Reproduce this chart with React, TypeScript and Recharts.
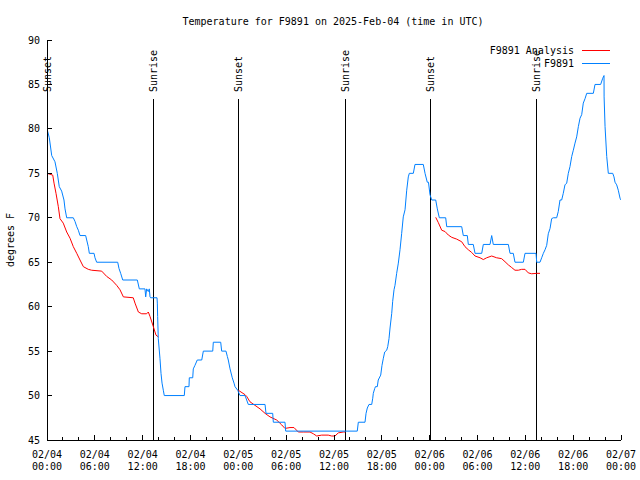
import React from 'react';
import { LineChart, Line, XAxis, YAxis, ReferenceLine } from 'recharts';

// hours since 02/04 00:00 UTC
const obsHours = [
  0, 0.29, 0.59, 1.0, 1.29, 1.54, 1.84, 2.13, 2.26, 2.47, 3.3, 3.51, 3.73, 3.93, 4.14, 4.85, 4.98, 5.18, 5.31, 5.9,
  6.02, 6.23, 8.87, 9.03, 9.24, 9.5, 11.33, 11.58, 12.29, 12.38, 12.5, 12.71, 12.83, 12.92, 13.0, 13.8, 13.84, 13.88,
  13.96, 14.17, 14.3, 14.43, 14.59, 14.71, 17.22, 17.31, 17.81, 17.85, 18.28, 18.35, 18.56, 18.85, 19.41, 19.61, 20.79,
  20.86, 21.79, 21.91, 22.45, 22.62, 22.74, 22.96, 23.24, 23.46, 23.58, 23.92, 24.21, 24.84, 25.25, 27.35, 27.47, 28.31,
  28.39, 29.85, 29.94, 38.92, 39.05, 39.89, 40.02, 40.18, 40.39, 40.73, 40.86, 40.93, 41.11, 41.2, 41.43, 41.55, 41.86,
  42.02, 42.19, 42.36, 42.61, 42.74, 42.9, 43.03, 43.24, 43.36, 43.53, 43.65, 43.86, 44.07, 44.28, 44.49, 44.69, 44.91,
  45.12, 45.32, 45.45, 45.95, 46.16, 47.2, 47.42, 47.7, 47.85, 48.04, 48.26, 48.76, 48.96, 49.21, 50.01, 50.14, 52.02,
  52.22, 52.72, 52.85, 53.47, 53.69, 54.53, 54.73, 55.57, 55.78, 55.98, 57.87, 58.08, 58.49, 58.7, 59.75, 59.96, 61.34,
  61.43, 61.84, 62.05, 62.26, 62.47, 62.68, 62.88, 63.1, 63.3, 63.51, 63.93, 64.13, 64.35, 64.56, 64.76, 64.97, 65.19,
  65.39, 65.6, 65.82, 66.02, 66.23, 66.44, 66.65, 66.86, 67.07, 67.27, 67.49, 67.7, 68.53, 68.74, 69.45, 69.71, 69.87,
  69.88, 70.0, 70.21, 70.41, 70.96, 71.12, 71.25, 71.46, 71.66, 71.88, 72,
];
const obsTemps = [
  80, 79, 77, 76.3, 75, 73.5, 73, 72, 71, 70, 70, 69.6, 69, 68.6, 68, 68, 67.5, 66.75, 66, 66,
  65.5, 65, 65, 64.3, 63.75, 63, 63, 62, 62, 61.1, 62, 61.7, 62, 61.1, 61, 61, 60.4, 58.9,
  56.4, 54.2, 52.5, 51.4, 50.6, 50, 50, 51, 51, 52, 52, 53, 53.4, 54, 54, 55, 55,
  56, 56, 55, 55, 54.4, 54, 53, 52, 51.4, 51, 50.6, 50, 50, 49, 49, 48, 48,
  47, 47, 46, 46, 47, 47, 48, 48.6, 49, 49, 49.7, 50.25, 50.8, 51, 51, 51.75, 52.3,
  53.4, 54.2, 54.9, 55.1, 55.5, 56.4, 57.6, 59.25, 60.6, 61.9, 62.4, 63.75, 64.9, 66.4, 68.25, 70.1, 70.9,
  73.1, 74.6, 75, 75, 76, 76, 75, 74, 74, 72.6, 72, 72, 71, 70, 70, 69, 69,
  68, 68, 67, 67, 66, 66, 67, 67, 68, 67, 67, 66, 66, 65, 65, 66, 66,
  65, 65, 65.5, 66, 66.4, 66.9, 68.2, 68.8, 69.9, 70, 70, 70.7, 72, 72, 72.75, 73.7, 73.9,
  75, 75.75, 76.9, 77.6, 78.4, 79.1, 80.25, 81.2, 81.6, 82.9, 83.4, 84, 84, 85, 85, 85.7, 86,
  83.6, 80.25, 76.9, 75, 75, 74.6, 74, 73.7, 73.1, 72.2, 72,
];

const anaHours = [
  0, 0.72, 0.88, 1.13, 1.42, 1.63, 2.04, 2.47, 2.89, 3.3, 3.73, 4.14, 4.56, 5.18, 5.6, 6.86, 7.49, 8.12, 8.74, 9.16,
  9.58, 10.82, 11.04, 11.46, 11.88, 12.5, 12.71, 12.92, 13.34, 13.67, 13.96,
  19,
  23.99, 24.84, 25.05, 25.46, 26.09, 26.72, 27.35, 27.97, 28.81, 29.44, 29.85, 30.48, 30.98, 31.52, 32.15, 32.99, 33.41,
  33.83, 34.45, 35.28, 35.71, 36.12, 36.54, 37.17, 37.42,
  43,
  48.76, 49.09, 49.51, 49.93, 50.34, 50.77, 51.39, 52.02, 52.43, 52.85, 53.27, 53.69, 54.32, 54.73, 55.15, 55.78, 56.4,
  57.03, 57.45, 57.87, 58.29, 58.7, 59.12, 59.54, 59.96, 60.37, 60.79, 61.43, 61.84,
];
const anaTemps = [
  75, 74.8, 73.9, 72.75, 71.25, 69.9, 69.4, 68.4, 67.7, 66.75, 66, 65.25, 64.5, 64.2, 64.1, 64, 63.4, 63, 62.4, 61.9,
  61.1, 61, 60.4, 59.4, 59.2, 59.2, 59.4, 58.9, 57.75, 56.8, 56.6,
  null,
  50.6, 50.1, 49.9, 49.3, 48.9, 48.5, 48, 47.6, 47.25, 46.7, 46.3, 46.4, 46.4, 45.9, 45.9, 45.9, 45.7,
  45.45, 45.55, 45.55, 45.45, 45.45, 45.8, 45.9, 45.9,
  null,
  70.05, 69.45, 68.6, 68.45, 68.06, 67.8, 67.6, 67.3, 66.75, 66.4, 66.1, 65.7, 65.5, 65.3, 65.5, 65.7, 65.5,
  65.4, 65.06, 64.7, 64.4, 64.1, 64.1, 64.2, 64.2, 63.8, 63.7, 63.75, 63.75,
];

const sunHours = [0, 13.34, 24.0, 37.43, 48.1, 61.4];
const sunLabels = ['Sunset', 'Sunrise', 'Sunset', 'Sunrise', 'Sunset', 'Sunrise'];

const xTicks = [0, 2, 4, 6, 8, 10, 12, 14, 16, 18, 20, 22, 24, 26, 28, 30, 32, 34, 36, 38, 40, 42, 44, 46, 48, 50, 52, 54, 56, 58, 60, 62, 64, 66, 68, 70, 72];
const majorHours = [0, 6, 12, 18, 24, 30, 36, 42, 48, 54, 60, 66, 72];
const tickDates = ['02/04', '02/04', '02/04', '02/04', '02/05', '02/05', '02/05', '02/05', '02/06', '02/06', '02/06', '02/06', '02/07'];
const tickTimes = ['00:00', '06:00', '12:00', '18:00', '00:00', '06:00', '12:00', '18:00', '00:00', '06:00', '12:00', '18:00', '00:00'];
const yTicks = [45, 50, 55, 60, 65, 70, 75, 80, 85, 90];

const obsData = obsHours.map((t, i) => ({ t, v: obsTemps[i] }));
const anaData = anaHours.map((t, i) => ({ t, v: anaTemps[i] }));

const FONT = '"DejaVu Sans Mono", "Liberation Mono", monospace';
const FS = 10;
const RED = '#ff0000';
const BLUE = '#0080ff';

function BottomTick(props: any) {
  const { x, y, payload } = props;
  const idx = majorHours.indexOf(payload.value);
  const major = idx >= 0;
  return (
    <g>
      <line x1={x} y1={y} x2={x} y2={y - (major ? 5 : 3)} stroke="#000" shapeRendering="crispEdges" />
      {major && (
        <text x={x} y={y + 18} textAnchor="middle" fontFamily={FONT} fontSize={FS} fill="#000">
          <tspan x={x} y={y + 18}>{tickDates[idx]}</tspan>
          <tspan x={x} y={y + 30}>{tickTimes[idx]}</tspan>
        </text>
      )}
    </g>
  );
}

function TopTick(props: any) {
  const { x, y, payload } = props;
  const major = majorHours.includes(payload.value);
  return <line x1={x} y1={y} x2={x} y2={y + (major ? 5 : 3)} stroke="#000" shapeRendering="crispEdges" />;
}

function LeftTick(props: any) {
  const { x, y, payload } = props;
  return (
    <g>
      <line x1={x} y1={y} x2={x + 5} y2={y} stroke="#000" shapeRendering="crispEdges" />
      <text x={x - 7} y={y} dy="0.36em" textAnchor="end" fontFamily={FONT} fontSize={FS} fill="#000">
        {payload.value}
      </text>
    </g>
  );
}

function RightTick(props: any) {
  const { x, y } = props;
  return <line x1={x} y1={y} x2={x - 5} y2={y} stroke="#000" shapeRendering="crispEdges" />;
}

const sunShape = (label: string) => (props: any) => {
  const { x1, y1, x2, y2 } = props;
  const top = Math.min(y1, y2);
  const bottom = Math.max(y1, y2);
  return (
    <g>
      <line x1={x1} y1={top + 59} x2={x2} y2={bottom} stroke="#000" strokeWidth={1} shapeRendering="crispEdges" />
      <text
        transform={`translate(${x1},${top + 52}) rotate(-90)`}
        textAnchor="start"
        dominantBaseline="central"
        fontFamily={FONT}
        fontSize={FS}
        fill="#000"
      >
        {label}
      </text>
    </g>
  );
};

export default function App() {
  return (
    <div style={{ position: 'absolute', left: 0, top: 0, width: 640, height: 480, background: '#fff' }}>
      <LineChart width={640} height={480} margin={{ top: 40, right: 19, bottom: 0, left: 0 }}>
        <XAxis
          xAxisId="b"
          type="number"
          dataKey="t"
          domain={[0, 72]}
          ticks={xTicks}
          interval={0}
          height={40}
          tickSize={0}
          tickMargin={0}
          tick={<BottomTick />}
          axisLine={{ stroke: '#000', shapeRendering: 'crispEdges' }}
          allowDataOverflow
        />
        <XAxis
          xAxisId="t"
          orientation="top"
          type="number"
          dataKey="t"
          domain={[0, 72]}
          ticks={xTicks}
          interval={0}
          height={0}
          tickSize={0}
          tickMargin={0}
          tick={<TopTick />}
          axisLine={{ stroke: '#000', shapeRendering: 'crispEdges' }}
          allowDataOverflow
        />
        <YAxis
          yAxisId="l"
          type="number"
          domain={[45, 90]}
          ticks={yTicks}
          interval={0}
          width={47}
          tickSize={0}
          tickMargin={0}
          tick={<LeftTick />}
          axisLine={{ stroke: '#000', shapeRendering: 'crispEdges' }}
          allowDataOverflow
        />
        <YAxis
          yAxisId="r"
          orientation="right"
          type="number"
          domain={[45, 90]}
          ticks={yTicks}
          interval={0}
          width={0}
          tickSize={0}
          tickMargin={0}
          tick={<RightTick />}
          axisLine={{ stroke: '#000', shapeRendering: 'crispEdges' }}
          allowDataOverflow
        />
        {sunHours.map((h, i) => (
          <ReferenceLine key={i} xAxisId="b" yAxisId="l" x={h} shape={sunShape(sunLabels[i])} />
        ))}
        <Line
          xAxisId="b"
          yAxisId="l"
          data={anaData}
          dataKey="v"
          type="linear"
          stroke={RED}
          strokeWidth={1}
          dot={false}
          activeDot={false}
          connectNulls={false}
          isAnimationActive={false}
        />
        <Line
          xAxisId="b"
          yAxisId="l"
          data={obsData}
          dataKey="v"
          type="linear"
          stroke={BLUE}
          strokeWidth={1}
          dot={false}
          activeDot={false}
          isAnimationActive={false}
        />
      </LineChart>
      <svg width={640} height={480} style={{ position: 'absolute', left: 0, top: 0, pointerEvents: 'none' }}>
        <text x={333} y={25} textAnchor="middle" fontFamily={FONT} fontSize={FS} fill="#000">
          Temperature for F9891 on 2025-Feb-04 (time in UTC)
        </text>
        <text
          transform="translate(10,240) rotate(-90)"
          textAnchor="middle"
          dominantBaseline="central"
          fontFamily={FONT}
          fontSize={FS}
          fill="#000"
        >
          degrees F
        </text>
        <text x={574} y={50} dy="0.36em" textAnchor="end" fontFamily={FONT} fontSize={FS} fill="#000">
          F9891 Analysis
        </text>
        <line x1={582} y1={50.5} x2={610} y2={50.5} stroke={RED} />
        <text x={574} y={63} dy="0.36em" textAnchor="end" fontFamily={FONT} fontSize={FS} fill="#000">
          F9891
        </text>
        <line x1={582} y1={63.5} x2={610} y2={63.5} stroke={BLUE} />
      </svg>
    </div>
  );
}
